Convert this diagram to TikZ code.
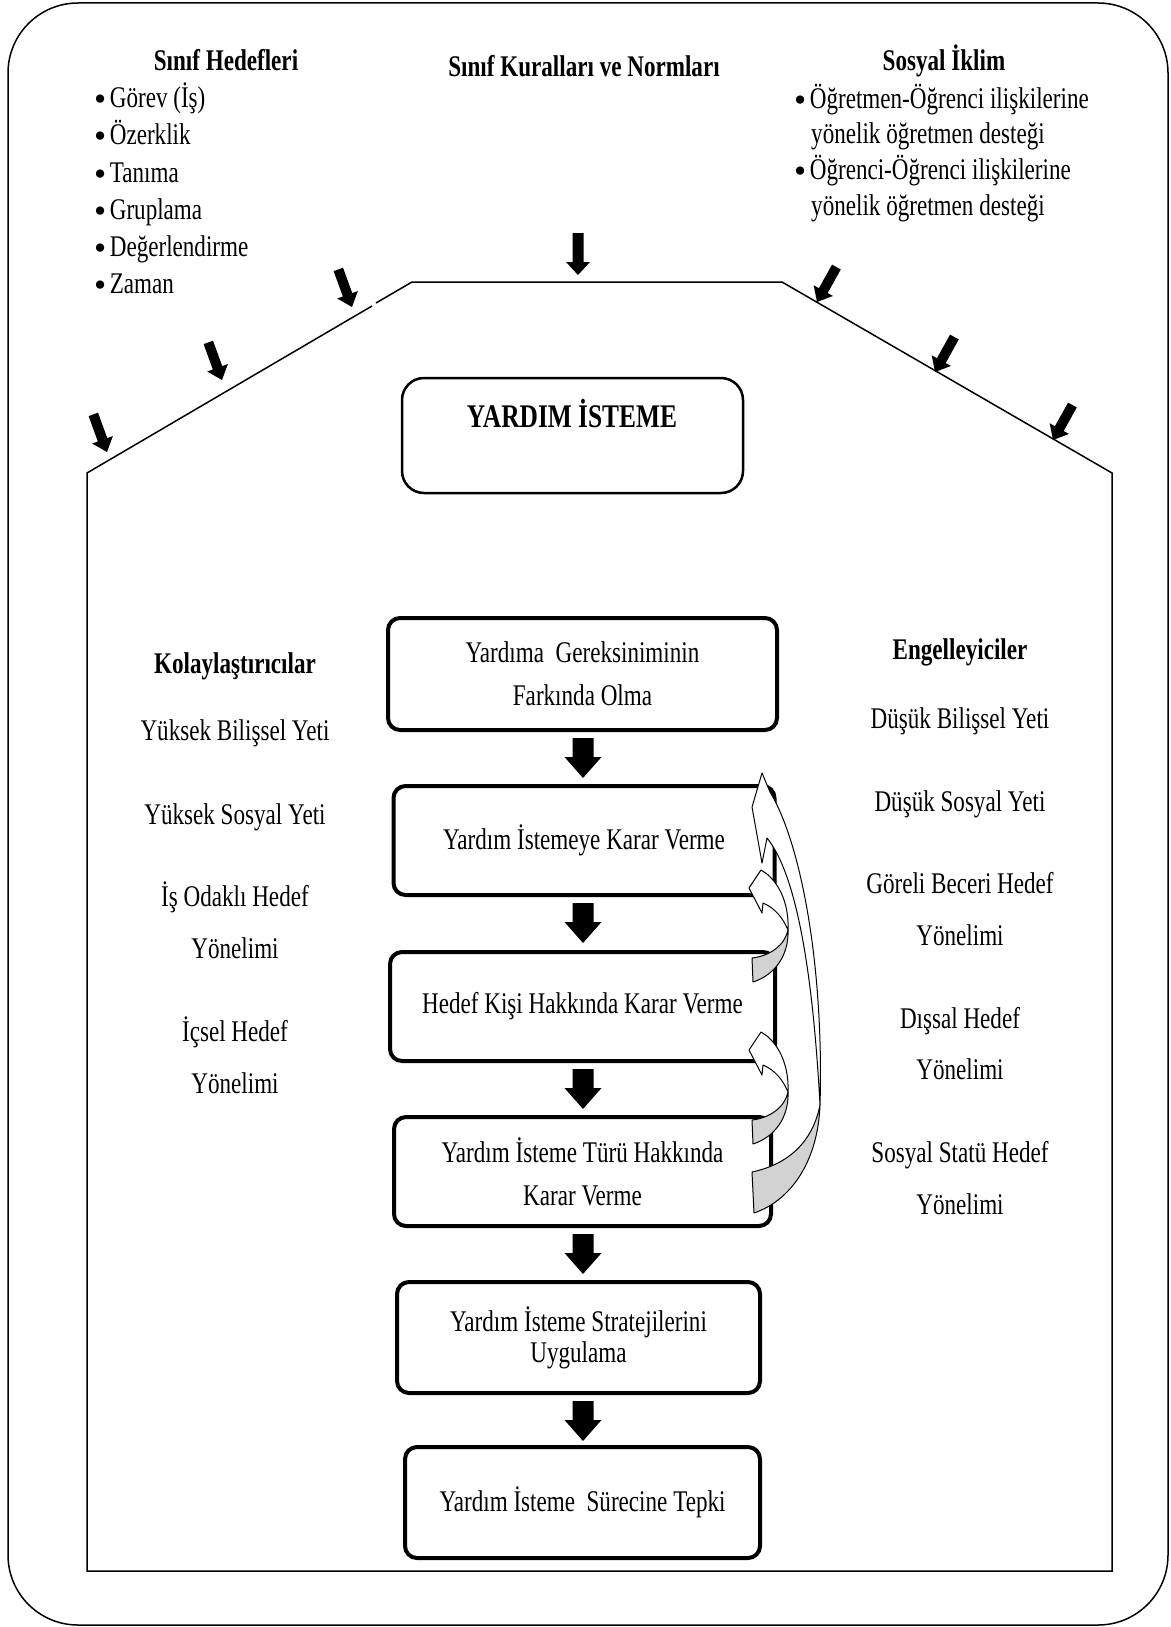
\documentclass[tikz,border=0pt]{standalone}
\usepackage{fontspec}
\usepackage{graphicx}
\setmainfont{Liberation Serif}[FakeStretch=0.77]
\usetikzlibrary{calc}
\newcommand{\blkarrow}[7]{\fill[shift={(#1,#2)}, rotate=#3] (0,0) -- (#6/2,-#7) -- (#5/2,-#7) -- (#5/2,-#4) -- (-#5/2,-#4) -- (-#5/2,-#7) -- (-#6/2,-#7) -- cycle;}
\newcommand{\bul}{\smash{\raisebox{-3pt}{\scalebox{1.5}[1.15]{•}}}\hspace{3.5pt}}
\tikzset{
  frame/.style={line width=1.5pt},
  house/.style={line width=1.5pt},
  fbox/.style={draw, line width=4pt, rounded corners=12pt, align=center, inner sep=0pt, font=\fontsize{30}{43}\selectfont},
  txt/.style={inner sep=0pt, font=\fontsize{30}{36}\selectfont, text height=20pt, text depth=2pt},
  btxt/.style={inner sep=0pt, font=\fontsize{30}{36}\selectfont\bfseries, text height=20pt, text depth=2pt},
  curvw/.style={draw, line width=1pt, fill=white, line join=round},
  curvg/.style={draw, line width=1pt, fill=gray!35, line join=round}
}
\begin{document}
\begin{tikzpicture}[x=1pt,y=-1pt]
\useasboundingbox (0,0) rectangle (1170,1627);
% outer frame
\draw[frame, rounded corners=70pt] (8,3) rectangle (1168,1625);
% house
\draw[house] (376,303) -- (412,282) -- (782,282) -- (1112,473) -- (1112,1571) -- (87,1571) -- (87,473) -- (372,306);

% top texts
\node[btxt] (sh) at (226,62) {Sınıf Hedefleri};
\node[txt, anchor=west] (sh1) at (94,98.5) {\bul Görev (İş)};
\node[txt, anchor=west] (sh2) at (94,135) {\bul Özerklik};
\node[txt, anchor=west] (sh3) at (94,173) {\bul Tanıma};
\node[txt, anchor=west] (sh4) at (94,210.5) {\bul Gruplama};
\node[txt, anchor=west] (sh5) at (94,247) {\bul Değerlendirme};
\node[txt, anchor=west] (sh6) at (94,284) {\bul Zaman};
\node[btxt] (sk) at (584,68) {Sınıf Kuralları ve Normları};
\node[btxt] (si) at (944,62) {Sosyal İklim};
\node[txt, anchor=west] (si1) at (794,99.5) {\bul Öğretmen-Öğrenci ilişkilerine};
\node[txt, anchor=west] (si2) at (811,134) {yönelik öğretmen desteği};
\node[txt, anchor=west] (si3) at (794,170) {\bul Öğrenci-Öğrenci ilişkilerine};
\node[txt, anchor=west] (si4) at (811,206) {yönelik öğretmen desteği};

% small arrows
\blkarrow{578}{275}{0}{42}{11}{24}{13}
\blkarrow{352}{307}{20}{40}{10}{22}{13}
\blkarrow{222}{380}{20}{40}{10}{22}{13}
\blkarrow{107}{452}{20}{40}{10}{22}{13}
\blkarrow{817}{302}{-29}{40}{10}{22}{13}
\blkarrow{935}{372}{-29}{40}{10}{22}{13}
\blkarrow{1053}{440}{-29}{40}{10}{22}{13}

% main title box
\node[draw, line width=2.5pt, rounded corners=22pt, minimum width=341pt, minimum height=115pt] (b1) at (572.5,435.5) {};
\node[inner sep=0pt, font=\fontsize{33}{40}\selectfont\bfseries, text height=22pt, text depth=2pt] (b1t) at (572,417) {YARDIM İSTEME};

% side columns
\node[btxt] (k0) at (235,664) {Kolaylaştırıcılar};
\node[txt] (k1) at (235,731) {Yüksek Bilişsel Yeti};
\node[txt] (k2) at (235,815) {Yüksek Sosyal Yeti};
\node[txt] (k3) at (235,897) {İş Odaklı Hedef};
\node[txt] (k4) at (235,949) {Yönelimi};
\node[txt] (k5) at (235,1032) {İçsel Hedef};
\node[txt] (k6) at (235,1084) {Yönelimi};

\node[btxt] (e0) at (960,650) {Engelleyiciler};
\node[txt] (e1) at (960,719) {Düşük Bilişsel Yeti};
\node[txt] (e2) at (960,802) {Düşük Sosyal Yeti};
\node[txt] (e3) at (960,884) {Göreli Beceri Hedef};
\node[txt] (e4) at (960,936) {Yönelimi};
\node[txt] (e5) at (960,1019) {Dışsal Hedef};
\node[txt] (e6) at (960,1070) {Yönelimi};
\node[txt] (e7) at (960,1153) {Sosyal Statü Hedef};
\node[txt] (e8) at (960,1205) {Yönelimi};

% flow boxes
\node[fbox, minimum width=389pt, minimum height=112pt] (b2) at (582.5,674) {Yardıma\ \ Gereksiniminin\\Farkında Olma};
\node[fbox, minimum width=381pt, minimum height=109pt] (b3) at (584,840.5) {Yardım İstemeye Karar Verme};
\node[fbox, minimum width=385pt, minimum height=109pt] (b4) at (582.5,1006.5) {Hedef Kişi Hakkında Karar Verme};
\node[fbox, minimum width=377pt, minimum height=109pt] (b5) at (582.5,1171.5) {Yardım İsteme Türü Hakkında\\Karar Verme};
\node[fbox, minimum width=363pt, minimum height=111pt, font=\fontsize{30}{31}\selectfont] (b6) at (578.5,1337.5) {Yardım İsteme Stratejilerini\\Uygulama};
\node[fbox, minimum width=355pt, minimum height=111pt] (b7) at (582.5,1502.5) {Yardım İsteme\ \ Sürecine Tepki};

% flow arrows
\coordinate (axis) at (583,0);
\foreach \a/\b in {b2/b3,b3/b4,b4/b5,b5/b6,b6/b7}{
  \fill[shift={($(axis |- \a.south)+(0,46)$)}] (0,0) -- (18.5,-21) -- (10.5,-21) -- (10.5,-40) -- (-10.5,-40) -- (-10.5,-21) -- (-18.5,-21) -- cycle;
}

% curved arrows
\draw[curvw] (770,792) .. controls (802,845) and (824,970) .. (820,1105) .. controls (813,975) and (797,875) .. (767,838) -- (762,863) -- (752,807) -- (762,773) -- cycle;
\draw[curvg] (820,1105) .. controls (818,1160) and (792,1200) .. (754,1213) -- (752,1172) .. controls (785,1165) and (812,1145) .. (820,1105) -- cycle;
\foreach \dy in {0,162}{
\begin{scope}[shift={(0,\dy)}]
\draw[curvw] (767,874) .. controls (781,886) and (789,906) .. (788,930) .. controls (783,918) and (775,908) .. (763,903) -- (762,913) -- (749,888) -- (761,870) -- cycle;
\draw[curvg] (788,930) .. controls (789,955) and (775,975) .. (753,982) -- (752,958) .. controls (770,956) and (785,945) .. (788,930) -- cycle;
\end{scope}
}
\end{tikzpicture}
\end{document}
